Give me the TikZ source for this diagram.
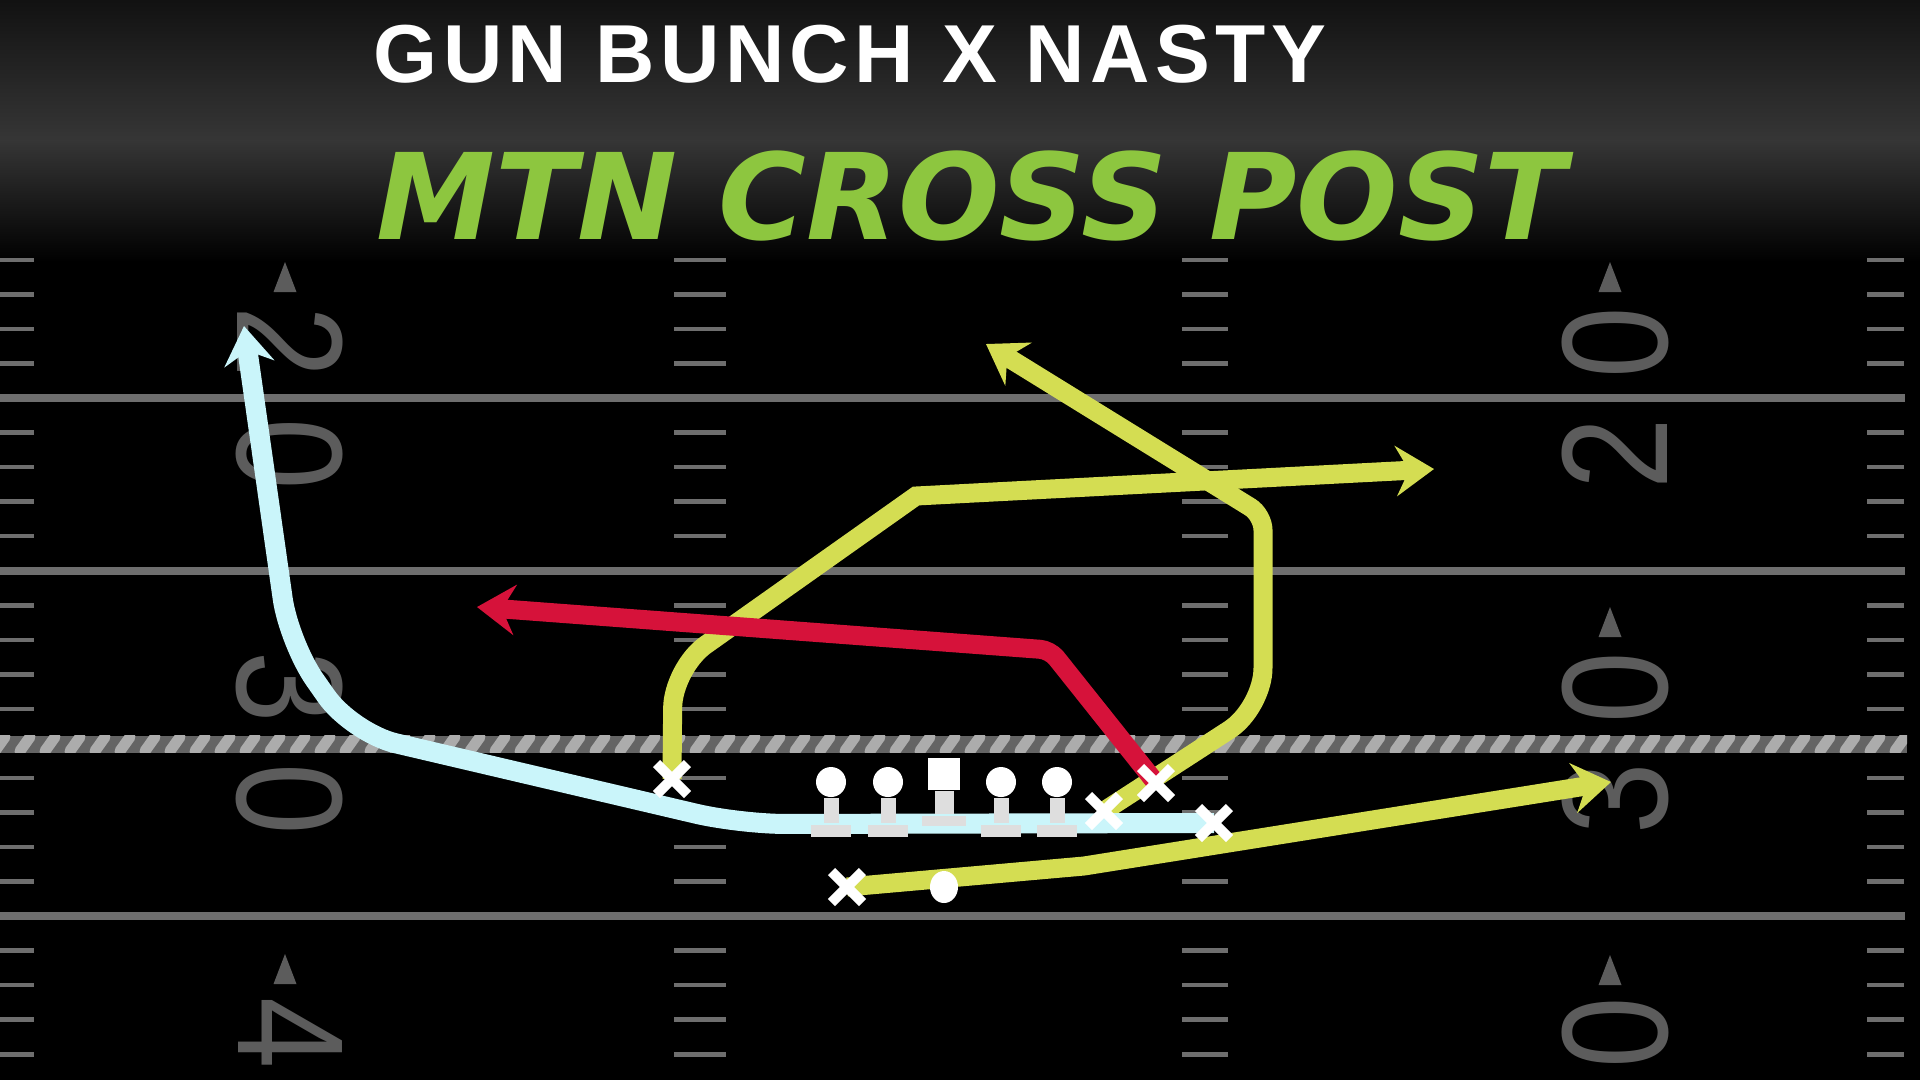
\documentclass[tikz,border=0pt]{standalone}
\usepackage{fontspec}
\setmainfont{Liberation Sans}
\newfontfamily\headfont{Liberation Sans}[LetterSpace=6.6]
\newfontfamily\playfont{DejaVu Sans}
\newfontfamily\yardfont{Liberation Sans}
\usetikzlibrary{%
  arrows.meta,%
  shapes.misc,% wg. cross out
  shapes.geometric,% wg. ellipse
  positioning% wg. " of "
}
\definecolor{fieldgray}{RGB}{92,92,92}
\definecolor{linegray}{RGB}{110,110,110}
\definecolor{ropegray}{RGB}{100,100,100}
\definecolor{ropelight}{RGB}{172,172,172}
\definecolor{stemgray}{RGB}{222,222,222}
\definecolor{wheelcyan}{RGB}{202,245,250}
\definecolor{digred}{RGB}{214,18,58}
\definecolor{routeyellow}{RGB}{212,221,82}
\definecolor{titlegreen}{RGB}{141,198,63}
\pgfdeclarelayer{field}
\pgfdeclarelayer{routes}
\pgfsetlayers{field,routes,main}
\newcommand\narrowdigits[1]{\scalebox{0.85}[1]{#1}}

\begin{document}
\begin{tikzpicture}
[x=0.1mm, y=-0.1mm,
yardline/.style={draw=linegray, line width=0.8mm},
hashmark/.style={draw=linegray, line width=0.45mm},
yardnum/.style={font=\yardfont\fontsize{43}{43}\selectfont, text=fieldgray, inner sep=0pt},
yardnumL/.style={yardnum, rotate=-90},
yardnumR/.style={yardnum, rotate=90},
headline/.style={font=\headfont\bfseries\fontsize{23.4}{24}\selectfont, text=white, inner sep=0pt},
playname/.style={font=\playfont\bfseries\itshape\fontsize{34}{36}\selectfont, text=titlegreen, inner sep=0pt},
xmark/.style={cross out, draw=white, line width=1mm, minimum size=2.1mm, inner sep=0pt},
football/.style={ellipse, fill=white, minimum width=2.8mm, minimum height=3.2mm, inner sep=0pt},
lineman/.style={circle, fill=white, minimum size=3mm, inner sep=0pt},
snapper/.style={rectangle, fill=white, minimum size=3.2mm, inner sep=0pt},
stance/.style={rectangle, fill=stemgray, minimum width=1.5mm, minimum height=2.5mm, inner sep=0pt},
footing/.style={rectangle, fill=stemgray, minimum width=4mm, minimum height=1.2mm, inner sep=0pt},
route/.style={line width=1.9mm, -{Stealth[length=3.8mm, width=5mm, inset=1.3mm]}}]

\useasboundingbox (0,0) rectangle (1920,1080);

% field
\begin{pgfonlayer}{field}
\fill[black] (0,0) rectangle (1920,1080);
\shade[top color=black!93, bottom color=black!79] (0,0) rectangle (1920,140);
\shade[top color=black!79, bottom color=black] (0,140) rectangle (1920,262);

\foreach \y in {398,570.7,916.1} {
  \draw[yardline] (0,\y) -- (1905,\y);
}
\foreach \k in {-4,-3,-2,-1,1,2,3,4,6,7,8,9,11,12,13,14,16,17,18,19} {
  \pgfmathsetmacro\hy{398+\k*34.54}
  \draw[hashmark] (0,\hy) -- (34,\hy);
  \draw[hashmark] (674,\hy) -- (726,\hy);
  \draw[hashmark] (1182,\hy) -- (1228,\hy);
  \draw[hashmark] (1867,\hy) -- (1904,\hy);
}

\node[yardnumL] (num20l) at (290,398) {\narrowdigits{2\hspace{13.5pt}0}};
\node[yardnumL] (num30l) at (290,743) {\narrowdigits{3\hspace{13.5pt}0}};
\node[yardnumL] (num40l) at (290,1033) {\narrowdigits{4}};
\node[yardnumR] (num20r) at (1615,398) {\narrowdigits{2\hspace{13.5pt}0}};
\node[yardnumR] (num30r) at (1615,743) {\narrowdigits{3\hspace{13.5pt}0}};
\node[yardnumR] (num40r) at (1615,1033) {\narrowdigits{0}};

\foreach \tx/\ty in {285/277, 285/969, 1610/277, 1610/622, 1610/970} {
  \fill[fieldgray] (\tx-11.5,\ty+15) -- (\tx,\ty-15) -- (\tx+11.5,\ty+15) -- cycle;
}

% line of scrimmage
\draw[ropegray, line width=1.7mm] (0,744) -- (1907,744);
\begin{scope}
  \clip (0,735.5) rectangle (1907,752.5);
  \foreach \x in {0,25,...,1925} {
    \draw[ropelight, line width=1.1mm, line cap=round] (\x-5,751) -- (\x+5,737);
  }
\end{scope}
\end{pgfonlayer}

% title
\node[headline, anchor=base west] (formation) at (373,82) {GUN BUNCH X NASTY};
\node[playname, anchor=base west] (playcall) at (376,239) {MTN CROSS POST};

% offense
\foreach \n/\x in {1/831, 2/888, 4/1001, 5/1057} {
  \node[lineman] (ol\n) at (\x,782) {};
  \node[stance, below=0pt of ol\n] (st\n) {};
  \node[footing, below=0pt of st\n] (ft\n) {};
}
\node[snapper] (ol3) at (944,774) {};
\node[stance, minimum width=1.9mm, minimum height=2.3mm, below=0pt of ol3] (st3) {};
\node[footing, minimum width=4.4mm, minimum height=1mm, below=0pt of st3] (ft3) {};

\node[xmark] (r1) at (672,779) {};
\node[xmark] (r2) at (1104,811) {};
\node[xmark] (r3) at (1156,783) {};
\node[xmark] (r4) at (1214,823) {};
\node[xmark] (r5) at (847,887) {};
\node[football] (qb) at (944,887) {};

\coordinate (crossend) at (1434,469);
\coordinate (postend) at (986,344);
\coordinate (flatend) at (1611,782);
\coordinate (wheelend) at (244,326);
\coordinate (digend) at (477,607);

% routes
\begin{pgfonlayer}{routes}
\draw[route, routeyellow] (r1.center) [rounded corners=4mm] -- (673,668) [sharp corners] -- (916,496) -- (crossend);
\draw[route, routeyellow] (r2.center) [rounded corners=4mm] -- (1263,708) [rounded corners=1.5mm] -- (1263,515) -- (postend);
\draw[route, routeyellow] (r5.center) -- (1084,866) -- (flatend);
\draw[route, wheelcyan, line width=2mm, rounded corners=4.5mm] (r4.center) -- (740,824) -- (352,733) -- (289,643) -- (wheelend);
\draw[route, digred, rounded corners=1mm] (r3.center) -- (1050,650) -- (digend);
\end{pgfonlayer}

\end{tikzpicture}
\end{document}
